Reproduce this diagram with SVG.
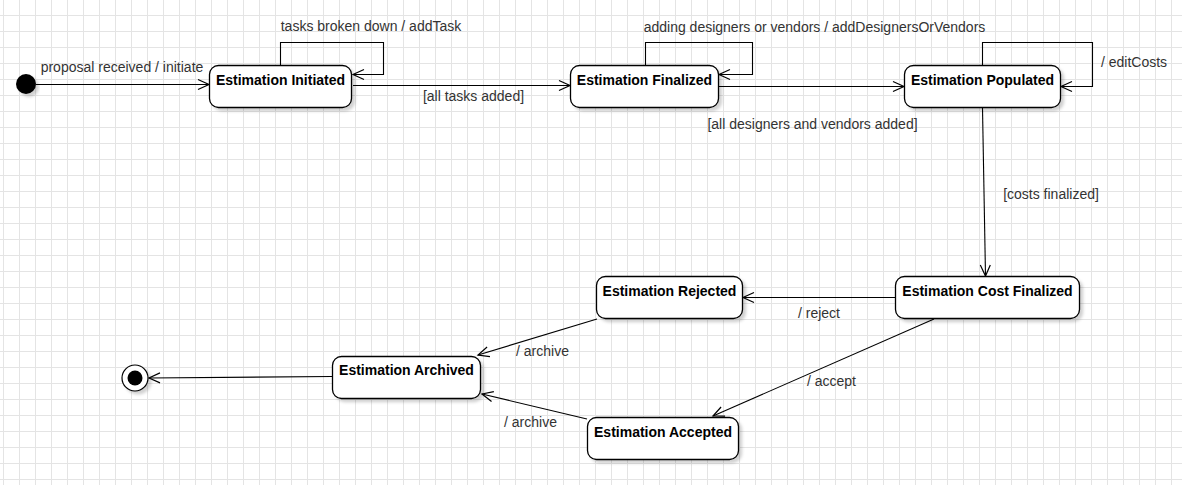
<svg xmlns="http://www.w3.org/2000/svg" width="1182" height="485" viewBox="0 0 1182 485">
<defs>
<pattern id="grid" x="3" y="15" width="16" height="16" patternUnits="userSpaceOnUse">
<path d="M0 0.5 H16 M0.5 0 V16" fill="none" stroke="#e4e4e4" stroke-width="1"/>
</pattern>
<filter id="sh" x="-20%" y="-20%" width="140%" height="160%">
<feDropShadow dx="3" dy="3" stdDeviation="1.5" flood-color="#000" flood-opacity="0.18"/>
</filter>
<marker id="arr" markerUnits="userSpaceOnUse" viewBox="-12 -7 14 14" refX="0" refY="0" markerWidth="14" markerHeight="14" orient="auto">
<path d="M-11,-5 L0,0 L-11,5" fill="none" stroke="#000" stroke-width="1.2"/>
</marker>
<style>
.st{fill:#fff;stroke:#000;stroke-width:1.3}
.nt{font-family:"Liberation Sans",Arial,Helvetica,sans-serif;font-size:14px;font-weight:bold;fill:#000;text-anchor:middle}
.lb{font-family:"Liberation Sans",Arial,Helvetica,sans-serif;font-size:14px;fill:#333;text-anchor:middle}
.e{fill:none;stroke:#000;stroke-width:1.1;marker-end:url(#arr)}
</style>
</defs>
<rect width="1182" height="485" fill="#fff"/>
<rect width="1182" height="485" fill="url(#grid)"/>

<g id="connectors">
<path class="e" d="M36 84.5 H209"/>
<path class="e" d="M280.5 65 V42.5 H383.5 V74.5 H353"/>
<path class="e" d="M353 85.5 H570"/>
<path class="e" d="M645.5 65 V42.5 H752.5 V74.5 H719"/>
<path class="e" d="M719 86.5 H904"/>
<path class="e" d="M982.5 65 V42.5 H1092.5 V86.5 H1061"/>
<path class="e" d="M982.5 108 L985.5 276"/>
<path class="e" d="M895 297.5 H743"/>
<path class="e" d="M934 319 L713 416"/>
<path class="e" d="M597 319 L478 355"/>
<path class="e" d="M587 419 L482 394"/>
<path class="e" d="M332 376.5 L149 378"/>
<text class="lb" x="122" y="72">proposal received / initiate</text>
<text class="lb" x="371" y="31">tasks broken down / addTask</text>
<text class="lb" x="473.5" y="101">[all tasks added]</text>
<text class="lb" x="814.5" y="31.5">adding designers or vendors / addDesignersOrVendors</text>
<text class="lb" x="812.5" y="129">[all designers and vendors added]</text>
<text class="lb" x="1134" y="66.5">/ editCosts</text>
<text class="lb" x="1051" y="199">[costs finalized]</text>
<text class="lb" x="819" y="317.5">/ reject</text>
<text class="lb" x="831.5" y="386">/ accept</text>
<text class="lb" x="542.5" y="356">/ archive</text>
<text class="lb" x="530.5" y="427">/ archive</text>
</g>

<g id="initial" filter="url(#sh)">
<circle cx="26" cy="84" r="10" fill="#000"/>
</g>
<g id="final" filter="url(#sh)">
<circle cx="135" cy="378" r="13" fill="#fff" stroke="#000" stroke-width="1.2"/>
<circle cx="135" cy="378" r="7.5" fill="#000"/>
</g>
<g id="estimation-initiated">
<rect class="st" filter="url(#sh)" x="209.5" y="65.5" width="142" height="42" rx="9"/>
<text class="nt" x="280.5" y="84.5">Estimation Initiated</text>
</g>
<g id="estimation-finalized">
<rect class="st" filter="url(#sh)" x="570.5" y="65.5" width="148" height="42" rx="9"/>
<text class="nt" x="644.5" y="84.5">Estimation Finalized</text>
</g>
<g id="estimation-populated">
<rect class="st" filter="url(#sh)" x="904.5" y="65.5" width="156" height="42" rx="9"/>
<text class="nt" x="982.5" y="84.5">Estimation Populated</text>
</g>
<g id="estimation-cost-finalized">
<rect class="st" filter="url(#sh)" x="895.5" y="276.5" width="184" height="42" rx="9"/>
<text class="nt" x="987.5" y="295.5">Estimation Cost Finalized</text>
</g>
<g id="estimation-rejected">
<rect class="st" filter="url(#sh)" x="596.5" y="276.5" width="146" height="42" rx="9"/>
<text class="nt" x="669.5" y="295.5">Estimation Rejected</text>
</g>
<g id="estimation-accepted">
<rect class="st" filter="url(#sh)" x="587.5" y="417.5" width="151" height="42" rx="9"/>
<text class="nt" x="663" y="436.5">Estimation Accepted</text>
</g>
<g id="estimation-archived">
<rect class="st" filter="url(#sh)" x="332.5" y="356.5" width="148" height="42" rx="9"/>
<text class="nt" x="406.5" y="375">Estimation Archived</text>
</g>
</svg>
